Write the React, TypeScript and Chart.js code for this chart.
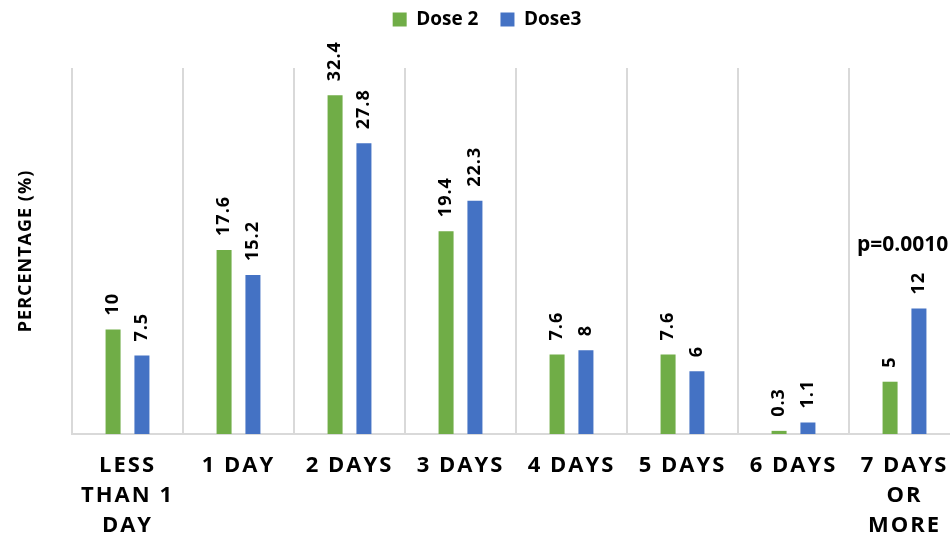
import React, { useEffect, useRef } from 'react';
import { Chart, registerables } from 'chart.js';

Chart.register(...registerables);

const categories: (string | string[])[] = [
  ['LESS', 'THAN 1', 'DAY'],
  '1 DAY',
  '2 DAYS',
  '3 DAYS',
  '4 DAYS',
  '5 DAYS',
  '6 DAYS',
  ['7 DAYS', 'OR', 'MORE'],
];
const seriesNames = ['Dose 2', 'Dose3'];
const dose2 = [10, 17.6, 32.4, 19.4, 7.6, 7.6, 0.3, 5];
const dose3 = [7.5, 15.2, 27.8, 22.3, 8, 6, 1.1, 12];
const yMin = 0;
const yMax = 35;
const yTitle = 'PERCENTAGE (%)';
const pValueText = 'p=0.0010';
const pValueCategory = 7;
const pValueAt = 18.1;

const FONT = "'Open Sans', 'DejaVu Sans', sans-serif";
const GREEN = '#70AD47';
const BLUE = '#4472C4';

const labelPlugin = {
  id: 'valueLabels',
  afterInit(chart: any) {
    const lg = chart.legend;
    if (lg && !lg.__patched) {
      const fit = lg.fit;
      lg.fit = function () {
        fit.call(this);
        this.height = 68;
      };
      lg.__patched = true;
    }
  },
  afterLayout(chart: any) {
    const lg = chart.legend;
    if (lg) {
      lg.left += 7;
      lg.right += 7;
      lg.top -= 12;
    }
  },
  afterDatasetsDraw(chart: any) {
    const ctx = chart.ctx;
    ctx.save();
    ctx.font = `bold 18px ${FONT}`;
    ctx.letterSpacing = '1px';
    ctx.fillStyle = '#000';
    ctx.textAlign = 'left';
    ctx.textBaseline = 'middle';
    chart.data.datasets.forEach((ds: any, di: number) => {
      const meta = chart.getDatasetMeta(di);
      meta.data.forEach((el: any, i: number) => {
        ctx.save();
        ctx.translate(el.x, el.y - 14);
        ctx.rotate(-Math.PI / 2);
        ctx.fillText(String(ds.data[i]), 0, 0);
        ctx.restore();
      });
    });
    const xs = chart.scales.x;
    const ys = chart.scales.y;
    const cw = xs.getPixelForValue(1) - xs.getPixelForValue(0);
    const left = xs.getPixelForValue(pValueCategory) - cw / 2 + 8;
    ctx.font = `bold 21px ${FONT}`;
    ctx.letterSpacing = '0px';
    ctx.textAlign = 'left';
    ctx.fillText(pValueText, left, ys.getPixelForValue(pValueAt));
    ctx.restore();
  },
};

export default function App() {
  const ref = useRef<HTMLCanvasElement>(null);
  useEffect(() => {
    if (!ref.current) return;
    const chart = new Chart(ref.current, {
      type: 'bar',
      data: {
        labels: categories,
        datasets: [
          { label: seriesNames[0], data: dose2, backgroundColor: GREEN, borderWidth: 0 },
          { label: seriesNames[1], data: dose3, backgroundColor: BLUE, borderWidth: 0 },
        ],
      },
      options: {
        responsive: false,
        animation: false,
        events: [],
        layout: { padding: { left: 0, right: 40, top: 0, bottom: 0 } },
        datasets: { bar: { categoryPercentage: 0.52, barPercentage: 0.52 } },
        plugins: {
          tooltip: { enabled: false },
          legend: {
            position: 'top',
            labels: {
              font: { family: FONT, size: 19, weight: 'bold' },
              color: '#000',
              boxWidth: 14,
              boxHeight: 14,
              padding: 22,
            },
          },
        },
        scales: {
          x: {
            grid: { display: true, offset: true, color: '#d9d9d9', lineWidth: 2, drawTicks: false },
            border: { display: true, color: '#d9d9d9', width: 2 },
            ticks: {
              font: { family: FONT, size: 22, weight: 'bold', lineHeight: 1.36 },
              color: '#000',
              padding: 17,
              maxRotation: 0,
              minRotation: 0,
              autoSkip: false,
            },
            afterFit: (s: any) => {
              s.height = 103;
              if (!s.__patched) {
                const orig = s.drawLabels;
                s.drawLabels = function (ca: any) {
                  const c = this.ctx;
                  c.save();
                  c.letterSpacing = '2px';
                  orig.call(this, ca);
                  c.restore();
                };
                s.__patched = true;
              }
            },
          },
          y: {
            min: yMin,
            max: yMax,
            ticks: { display: false },
            grid: { display: false },
            border: { display: false },
            title: {
              display: true,
              text: yTitle,
              color: '#000',
              font: { family: FONT, size: 18, weight: 'bold' },
              padding: { top: 15, bottom: 0 },
            },
            afterFit: (s: any) => {
              s.width = 72;
              if (!s.__patched) {
                const orig = s.drawTitle;
                s.drawTitle = function () {
                  const c = this.ctx;
                  c.save();
                  c.letterSpacing = '1px';
                  orig.call(this);
                  c.restore();
                };
                s.__patched = true;
              }
            },
          },
        },
      },
      plugins: [labelPlugin],
    });
    return () => chart.destroy();
  }, []);
  return (
    <div style={{ position: 'absolute', left: 0, top: 0, width: 950, height: 537, overflow: 'hidden', background: '#fff' }}>
      <canvas ref={ref} width={1000} height={537} style={{ display: 'block' }} />
    </div>
  );
}
